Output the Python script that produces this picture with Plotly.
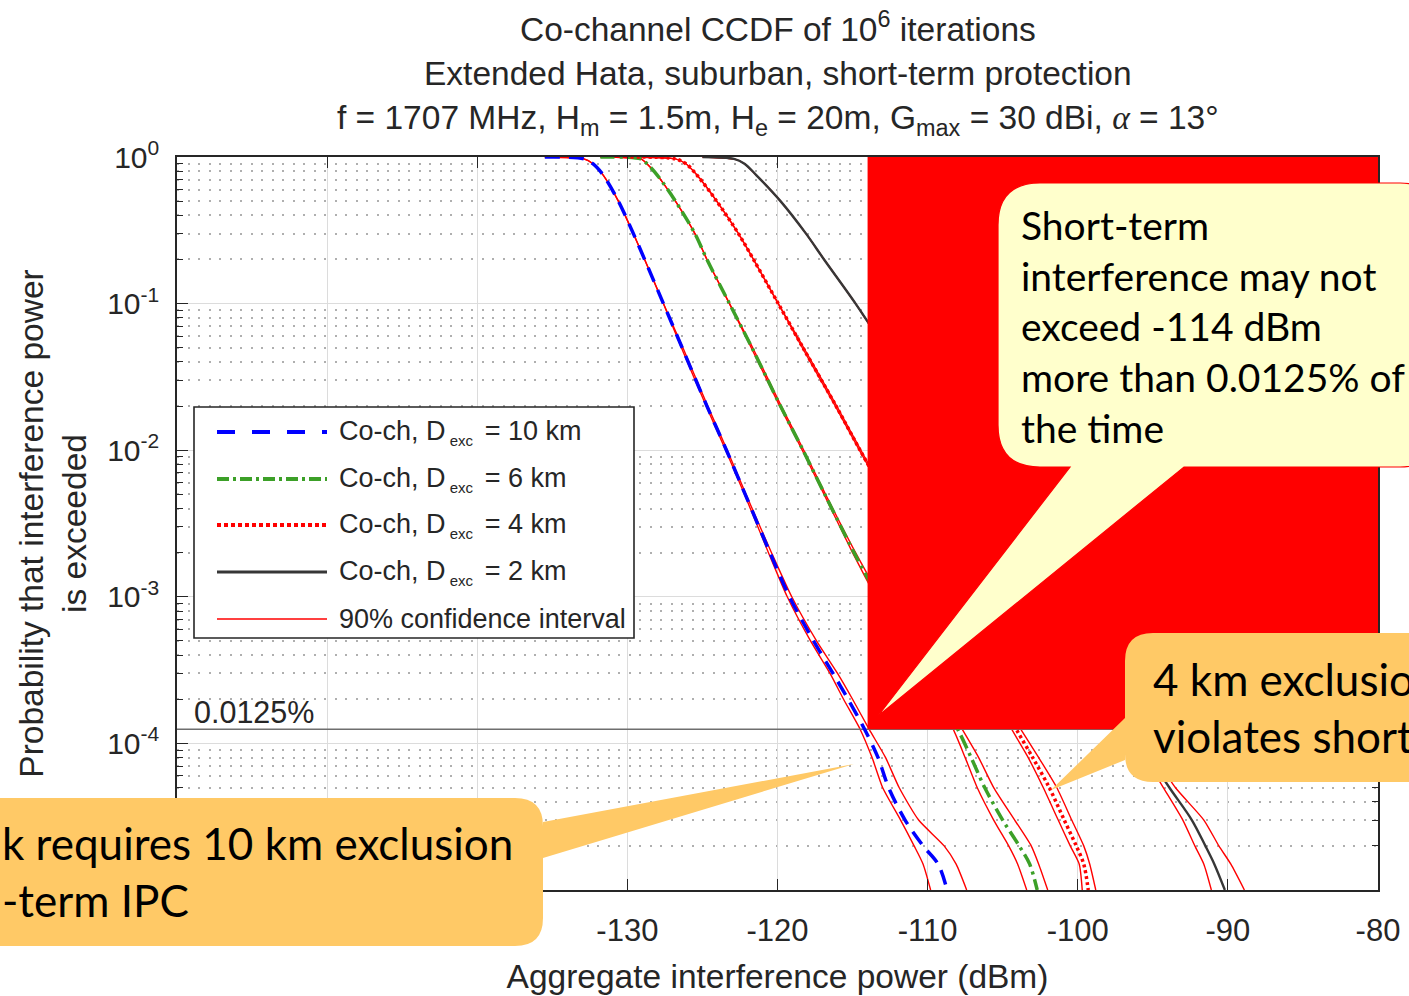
import plotly.graph_objects as go

# ---------------------------------------------------------------- data
# exceedance probability levels shared by every CCDF curve
p_grid = [1.0, 0.97, 0.9, 0.75, 0.5, 0.3, 0.2, 0.1, 0.05, 0.02, 0.01, 5e-3,
          2e-3, 1e-3, 5e-4, 3e-4, 2e-4, 1.25e-4, 8e-5, 5e-5, 3e-5, 2e-5, 1.5e-5, 1e-5]

# aggregate interference (dBm) at each probability level: mean curve and 90% CI bounds
d10_mean = [-135.5, -132.9, -132.3, -131.6, -130.6, -129.6, -128.85, -127.6, -126.35, -124.7, -123.4, -122.15,
            -120.5, -119.2, -117.6, -116.3, -115.3, -114.2, -113.3, -112.6, -111.5, -110.3, -109.3, -108.7]
d10_lo = [-135.5, -132.9, -132.3, -131.6, -130.6, -129.6, -128.85, -127.6, -126.4, -124.75, -123.45, -122.2,
          -120.6, -119.35, -117.8, -116.5, -115.6, -114.5, -113.7, -113.0, -111.8, -110.9, -110.3, -109.8]
d10_hi = [-135.5, -132.9, -132.3, -131.6, -130.6, -129.6, -128.85, -127.6, -126.3, -124.65, -123.35, -122.1,
          -120.4, -119.05, -117.4, -116.0, -115.0, -113.9, -112.8, -111.9, -110.6, -108.9, -108.1, -107.4]

d6_mean = [-131.8, -129.1, -128.7, -128.0, -126.8, -125.5, -124.7, -123.2, -121.7, -119.8, -118.3, -116.85,
           -114.9, -113.3, -111.6, -110.4, -109.2, -108.0, -107.1, -106.2, -105.0, -103.9, -103.2, -102.7]
d6_lo = [-131.8, -129.1, -128.7, -128.0, -126.8, -125.5, -124.7, -123.2, -121.75, -119.85, -118.35, -116.9,
         -115.0, -113.45, -111.8, -110.7, -109.5, -108.3, -107.5, -106.7, -105.6, -104.6, -104.0, -103.4]
d6_hi = [-131.8, -129.1, -128.7, -128.0, -126.8, -125.5, -124.7, -123.2, -121.65, -119.75, -118.25, -116.8,
         -114.8, -113.15, -111.4, -110.1, -108.9, -107.7, -106.6, -105.6, -104.2, -103.1, -102.6, -102.0]

d4_mean = [-129.8, -126.8, -126.1, -125.35, -124.05, -122.6, -121.6, -119.95, -118.3, -116.1, -114.5, -112.85,
           -110.7, -109.0, -107.4, -106.2, -105.2, -104.1, -103.0, -101.9, -100.9, -100.1, -99.6, -99.3]
d4_lo = [-129.8, -126.8, -126.1, -125.35, -124.05, -122.6, -121.6, -119.95, -118.35, -116.15, -114.55, -112.9,
         -110.8, -109.15, -107.6, -106.4, -105.4, -104.4, -103.3, -102.3, -101.3, -100.5, -99.9, -99.7]
d4_hi = [-129.8, -126.8, -126.1, -125.35, -124.05, -122.6, -121.6, -119.95, -118.25, -116.05, -114.45, -112.8,
         -110.6, -108.85, -107.2, -106.0, -105.0, -103.8, -102.6, -101.4, -100.4, -99.6, -99.2, -98.8]

d2_mean = [-125.0, -122.9, -122.2, -121.4, -119.8, -118.1, -116.9, -114.8, -112.85, -110.3, -108.4, -106.5,
           -104.0, -102.1, -100.2, -98.8, -97.7, -96.4, -95.2, -93.9, -92.4, -91.5, -90.9, -90.2]
d2_lo = [-125.0, -122.9, -122.2, -121.4, -119.8, -118.1, -116.9, -114.8, -112.9, -110.35, -108.45, -106.55,
         -104.1, -102.25, -100.4, -99.0, -98.0, -96.7, -95.5, -94.3, -93.0, -92.2, -91.6, -91.1]
d2_hi = [-125.0, -122.9, -122.2, -121.4, -119.8, -118.1, -116.9, -114.8, -112.8, -110.25, -108.35, -106.45,
         -103.9, -101.95, -99.9, -98.5, -97.3, -96.0, -94.8, -93.5, -91.6, -90.6, -89.8, -88.9]

series_names = ["Co-ch, D<sub>exc</sub> = 10 km", "Co-ch, D<sub>exc</sub> = 6 km",
                "Co-ch, D<sub>exc</sub> = 4 km", "Co-ch, D<sub>exc</sub> = 2 km"]
ci_name = "90% confidence interval"

# short-term interference protection criterion
limit_dbm = -114.0
limit_prob = 1.25e-4
limit_label = "0.0125%"

x_range = [-160, -80]
x_ticks = [-160, -150, -140, -130, -120, -110, -100, -90, -80]
# the leftmost labels sit under the note box
x_ticktext = ["", "", "", "-130", "-120", "-110", "-100", "-90", "-80"]
y_decades = [1e-5, 1e-4, 1e-3, 1e-2, 1e-1, 1e0]
y_ticktext = ["", "10<sup>-4</sup>", "10<sup>-3</sup>", "10<sup>-2</sup>",
              "10<sup>-1</sup>", "10<sup>0</sup>"]

# ---------------------------------------------------------------- geometry helpers
W, H = 1409, 996
ML, MR, MT, MB = 177, 31, 157, 106
PW, PH = W - ML - MR, H - MT - MB


def fx(xp):
    """pixel column -> paper x"""
    return (xp - ML) / PW


def fy(yp):
    """pixel row -> paper y"""
    return (H - MB - yp) / PH


def pt(xp, yp):
    return f"{fx(xp):.5f},{fy(yp):.5f}"


def bubble(left, top, right, bottom, r, tail, side):
    """rounded box with a pointer; tail = (base_a, base_b, tip) in pixels"""
    a, b, tip = tail
    d = [f"M{pt(left + r, top)}"]
    d.append(f"L{pt(right - r, top)}")
    d.append(f"Q{pt(right, top)} {pt(right, top + r)}")
    if side == "right":
        d.append(f"L{pt(right, a)}")
        d.append(f"L{pt(*tip)}")
        d.append(f"L{pt(right, b)}")
    d.append(f"L{pt(right, bottom - r)}")
    d.append(f"Q{pt(right, bottom)} {pt(right - r, bottom)}")
    if side == "bottom":
        d.append(f"L{pt(b, bottom)}")
        d.append(f"L{pt(*tip)}")
        d.append(f"L{pt(a, bottom)}")
    d.append(f"L{pt(left + r, bottom)}")
    d.append(f"Q{pt(left, bottom)} {pt(left, bottom - r)}")
    if side == "left":
        d.append(f"L{pt(left, b)}")
        d.append(f"L{pt(*tip)}")
        d.append(f"L{pt(left, a)}")
    d.append(f"L{pt(left, top + r)}")
    d.append(f"Q{pt(left, top)} {pt(left + r, top)}")
    d.append("Z")
    return " ".join(d)


# ---------------------------------------------------------------- styles
BLUE = "rgb(0,0,255)"
GREEN = "rgb(60,160,40)"
RED = "rgb(255,0,0)"
DARK = "rgb(55,55,55)"
TXT = "#262626"
AX_FONT = "Liberation Sans, Arial, sans-serif"
NOTE_FONT = "Lato, Open Sans, sans-serif"

styles = [
    dict(color=BLUE, width=3.5, dash="15px,9px", shape="spline", smoothing=0.9),
    dict(color=GREEN, width=3.5, dash="14px,5px,3px,5px", shape="spline", smoothing=0.9),
    dict(color=RED, width=3.5, dash="3px,3px", shape="spline", smoothing=0.9),
    dict(color=DARK, width=2.4, shape="spline", smoothing=0.9),
]
ci_style = dict(color=RED, width=1.4, shape="spline", smoothing=0.6)

means = [d10_mean, d6_mean, d4_mean, d2_mean]
los = [d10_lo, d6_lo, d4_lo, d2_lo]
his = [d10_hi, d6_hi, d4_hi, d2_hi]

fig = go.Figure()

# confidence bounds underneath the curves
for lo, hi in zip(los, his):
    for xs in (lo, hi):
        fig.add_trace(go.Scatter(x=xs, y=p_grid, mode="lines", line=ci_style,
                                 name=ci_name, showlegend=False, hoverinfo="skip"))

# protection threshold
fig.add_trace(go.Scatter(x=x_range, y=[limit_prob, limit_prob], mode="lines",
                         line=dict(color="rgb(110,110,110)", width=1.6),
                         showlegend=False, hoverinfo="skip"))

# CCDF curves
for xs, st, nm in zip(means, styles, series_names):
    fig.add_trace(go.Scatter(x=xs, y=p_grid, mode="lines", line=st, name=nm,
                             showlegend=False))

minor_vals = [k * 10.0 ** e for e in range(-5, 0) for k in range(2, 10)]

fig.update_layout(
    width=W, height=H,
    margin=dict(l=ML, r=MR, t=MT, b=MB, pad=0, autoexpand=False),
    paper_bgcolor="white", plot_bgcolor="white",
    showlegend=False,
    font=dict(family=AX_FONT, color=TXT),
    xaxis=dict(
        range=x_range, tickmode="array", tickvals=x_ticks, ticktext=x_ticktext,
        ticks="inside", ticklen=11, tickwidth=1.3, tickcolor=TXT,
        showline=True, linecolor=TXT, linewidth=1.6, mirror="allticks",
        showgrid=True, gridcolor="rgb(220,220,220)", gridwidth=1.2, zeroline=False,
        tickfont=dict(size=31, family=AX_FONT, color=TXT),
        ticklabelstandoff=12, automargin=False,
        title=dict(text="Aggregate interference power (dBm)",
                   font=dict(size=33.5, family=AX_FONT, color=TXT), standoff=18),
    ),
    yaxis=dict(
        type="log", range=[-5, 0],
        tickmode="array", tickvals=y_decades, ticktext=y_ticktext,
        ticks="inside", ticklen=11, tickwidth=1.3, tickcolor=TXT,
        showline=True, linecolor=TXT, linewidth=1.6, mirror="allticks",
        showgrid=True, gridcolor="rgb(220,220,220)", gridwidth=1.2, zeroline=False,
        tickfont=dict(size=30, family=AX_FONT, color=TXT),
        ticklabelstandoff=10, automargin=False,
        minor=dict(tickmode="array", tickvals=minor_vals, ticks="inside", ticklen=6,
                   tickwidth=1.2, tickcolor=TXT, showgrid=True,
                   gridcolor="rgb(175,175,175)", gridwidth=1.6, griddash="2px,8.5px"),
        title=dict(text="Probability that interference power<br>is exceeded",
                   font=dict(size=33.5, family=AX_FONT, color=TXT), standoff=10),
    ),
)

# ---------------------------------------------------------------- title
title_lines = [
    ("Co-channel CCDF of 10<sup>6</sup> iterations", 27),
    ("Extended Hata, suburban, short-term protection", 73),
    ("f = 1707 MHz, H<sub>m</sub> = 1.5m, H<sub>e</sub> = 20m, G<sub>max</sub> = 30 dBi, "
     "<span style=\"font-family:'Liberation Serif'\"><i>α</i></span> = 13°", 120),
]
for txt, yp in title_lines:
    fig.add_annotation(text=txt, x=0.5, y=fy(yp), xref="paper", yref="paper",
                       xanchor="center", yanchor="middle", showarrow=False,
                       font=dict(size=33.5, family=AX_FONT, color=TXT))

# threshold label
fig.add_annotation(text=limit_label, x=fx(192), y=fy(712), xref="paper", yref="paper",
                   xanchor="left", yanchor="middle", showarrow=False,
                   font=dict(size=30.5, family=AX_FONT, color=TXT))

# ---------------------------------------------------------------- legend box
shapes = []
shapes.append(dict(type="rect", xref="paper", yref="paper",
                   x0=fx(194), x1=fx(634), y0=fy(638), y1=fy(407),
                   fillcolor="white", line=dict(color=TXT, width=1.6), layer="above"))
leg_rows = [432, 479, 525, 572, 619]
leg_styles = [dict(color=BLUE, width=4, dash="18px,17px"),
              dict(color=GREEN, width=4, dash="12px,4px,3px,4px"),
              dict(color=RED, width=4, dash="4px,3px"),
              dict(color=DARK, width=3),
              dict(color=RED, width=1.6)]
leg_texts = series_names + [ci_name]
for yp, st, txt in zip(leg_rows, leg_styles, leg_texts):
    shapes.append(dict(type="line", xref="paper", yref="paper",
                       x0=fx(217), x1=fx(327), y0=fy(yp), y1=fy(yp),
                       line=st, layer="above"))
    fig.add_annotation(text=txt.replace("<sub>exc</sub>",
                                        "<sub><span style='font-size:15px'> exc </span></sub>"),
                       x=fx(337), y=fy(yp), xref="paper", yref="paper",
                       xanchor="left", yanchor="middle", showarrow=False,
                       font=dict(size=27, family=AX_FONT, color=TXT))

# ---------------------------------------------------------------- highlighted region and notes
shapes.append(dict(type="rect", xref="x", yref="y",
                   x0=limit_dbm, x1=x_range[1], y0=limit_prob, y1=1.0,
                   fillcolor=RED, line=dict(width=0), layer="above"))

shapes.append(dict(type="path", xref="paper", yref="paper", layer="above",
                   path=bubble(998, 183, 1442, 467, 42, (1070, 1184, (878, 716)), "bottom"),
                   fillcolor="rgb(255,255,204)", line=dict(color=RED, width=1.2)))
shapes.append(dict(type="path", xref="paper", yref="paper", layer="above",
                   path=bubble(1125, 633, 1460, 782, 28, (718, 760, (1051, 790)), "left"),
                   fillcolor="rgb(255,201,102)", line=dict(width=0)))
shapes.append(dict(type="path", xref="paper", yref="paper", layer="above",
                   path=bubble(-60, 798, 543, 946, 28, (822, 858, (854, 764)), "right"),
                   fillcolor="rgb(255,201,102)", line=dict(width=0)))
fig.update_layout(shapes=shapes)

fig.add_annotation(text="Short-term<br>interference may not<br>exceed -114 dBm<br>"
                        "more than 0.0125% of<br>the time",
                   x=fx(1019), y=fy(326), xref="paper", yref="paper",
                   xanchor="left", yanchor="middle", align="left", showarrow=False,
                   font=dict(size=39, family=NOTE_FONT, color="black"))
fig.add_annotation(text="4 km exclusio<br>violates short",
                   x=fx(1151), y=fy(707), xref="paper", yref="paper",
                   xanchor="left", yanchor="middle", align="left", showarrow=False,
                   font=dict(size=44, family=NOTE_FONT, color="black"))
fig.add_annotation(text="k requires 10 km exclusion<br>-term IPC",
                   x=fx(0), y=fy(871), xref="paper", yref="paper",
                   xanchor="left", yanchor="middle", align="left", showarrow=False,
                   font=dict(size=44, family=NOTE_FONT, color="black"))

fig.write_html("out.html")
